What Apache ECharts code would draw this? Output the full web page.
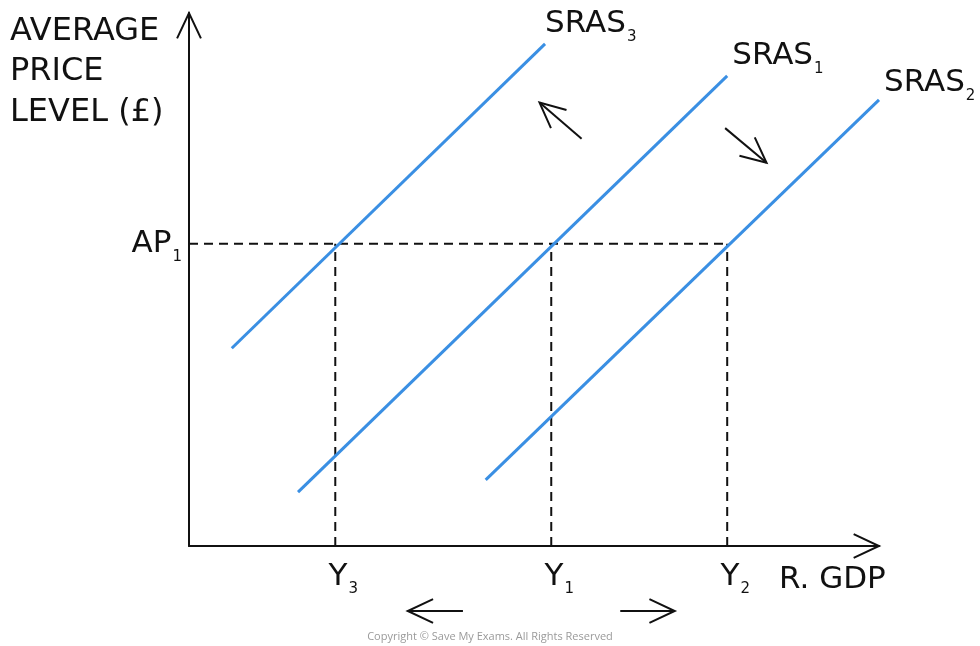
<!DOCTYPE html>
<html>
<head>
<meta charset="utf-8">
<script src="https://cdn.jsdelivr.net/npm/echarts@6/dist/echarts.min.js"></script>
<style>
  html, body { margin: 0; padding: 0; background: #fff; }
  #chart { width: 980px; height: 646px; }
</style>
</head>
<body>
<div id="chart"></div>
<script>
// chart units: x 0..100 (real GDP), y 0..100 (average price level)
const sras3 = [[6.2, 37.1], [51.6, 94.2]];
const sras1 = [[15.8, 10.1], [78.0, 88.2]];
const sras2 = [[43.0, 12.4], [100, 83.7]];
const curveNames = ['SRAS|3', 'SRAS|1', 'SRAS|2'];

const priceLevel = 56.7;
const priceLabel = 'AP|1';
const outputLevels = [21.2, 52.5, 78.0];
const outputLabels = ['Y|3', 'Y|1', 'Y|2'];

// [tailX, tailY, tipX, tipY]
const axisArrows = [[0, 0, 0, 100], [0, 0, 100, 0]];
const shiftArrows = [
  [56.9, 76.4, 50.8, 83.2],
  [77.7, 78.4, 83.7, 71.9],
  [39.7, -12.2, 31.7, -12.2],
  [62.5, -12.2, 70.4, -12.2]
];

const FONT = 'DejaVu Sans';
const BLUE = '#3a8fe3';
const INK = '#111';

const sub = (s) => {
  const [main, idx] = s.split('|');
  return `{m|${main}}{s|${idx}}`;
};
const rich = {
  m: { fontFamily: FONT, fontSize: 31, color: INK },
  s: { fontFamily: FONT, fontSize: 15, color: INK, padding: [26, 0, 0, 1] }
};

const chart = echarts.init(document.getElementById('chart'));

const labelOffsets = [[-8, -20], [-3, -20], [-3, -17]];
const curveSeries = [sras3, sras1, sras2].map((pts, i) => ({
  type: 'line',
  data: pts,
  symbol: 'none',
  silent: true,
  lineStyle: { color: BLUE, width: 3 },
  z: 3,
  endLabel: {
    show: true,
    formatter: () => sub(curveNames[i]),
    rich: rich,
    offset: labelOffsets[i]
  }
}));

const dashStyle = { color: INK, width: 2, type: [9, 6] };
const dashSeries = [{
  type: 'line',
  data: [[0, priceLevel], [Math.max(...outputLevels), priceLevel]],
  symbol: 'none', silent: true, lineStyle: dashStyle, z: 2
}].concat(outputLevels.map(x => ({
  type: 'line',
  data: [[x, 0], [x, priceLevel]],
  symbol: 'none', silent: true, lineStyle: dashStyle, z: 2
})));

function drawArrow(params, api) {
  const a = api.coord([api.value(0), api.value(1)]);
  const b = api.coord([api.value(2), api.value(3)]);
  const ang = Math.atan2(b[1] - a[1], b[0] - a[0]);
  const len = 28, spread = 0.44;
  const h1 = [b[0] - len * Math.cos(ang - spread), b[1] - len * Math.sin(ang - spread)];
  const h2 = [b[0] - len * Math.cos(ang + spread), b[1] - len * Math.sin(ang + spread)];
  const style = { stroke: INK, lineWidth: 2, fill: null };
  return {
    type: 'group',
    children: [
      { type: 'line', shape: { x1: a[0], y1: a[1], x2: b[0], y2: b[1] }, style },
      { type: 'polyline', shape: { points: [h1, b, h2] }, style }
    ]
  };
}

chart.setOption({
  animation: false,
  backgroundColor: '#fff',
  grid: { left: 189, right: 101, top: 13, bottom: 100 },
  xAxis: {
    type: 'value', min: 0, max: 100,
    splitLine: { show: false },
    axisLine: { show: true, lineStyle: { color: INK, width: 2 } },
    axisTick: { show: false },
    axisLabel: {
      customValues: outputLevels,
      margin: 10,
      padding: [0, 0, 0, 16],
      formatter: (v) => sub(outputLabels[outputLevels.indexOf(v)]),
      rich: rich
    }
  },
  yAxis: {
    type: 'value', min: 0, max: 100,
    splitLine: { show: false },
    axisLine: { show: true, lineStyle: { color: INK, width: 2 } },
    axisTick: { show: false },
    axisLabel: {
      customValues: [priceLevel],
      margin: 7,
      formatter: () => sub(priceLabel),
      rich: rich
    }
  },
  graphic: [
    {
      type: 'text', left: 10, top: 11,
      style: {
        text: 'AVERAGE\nPRICE\nLEVEL (£)',
        font: '32px "DejaVu Sans"', fill: INK, lineHeight: 40.5
      }
    },
    {
      type: 'text', left: 779, top: 564,
      style: { text: 'R. GDP', font: '31px "DejaVu Sans"', fill: INK }
    },
    {
      type: 'text', left: 'center', top: 631,
      style: {
        text: 'Copyright © Save My Exams. All Rights Reserved',
        font: '11px "Open Sans"', fill: '#9a9a9a'
      }
    }
  ],
  series: dashSeries.concat(curveSeries, [{
    type: 'custom',
    data: axisArrows.concat(shiftArrows),
    renderItem: drawArrow,
    silent: true,
    z: 4
  }])
});
</script>
</body>
</html>
